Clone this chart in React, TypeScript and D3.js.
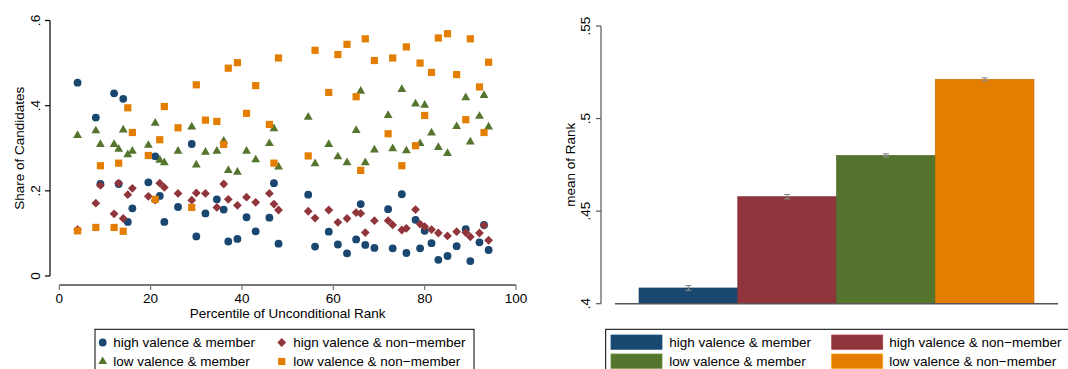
import React from 'react';
import * as d3 from 'd3';

// Percentile of unconditional rank for each group of candidates
const percentiles = [4, 8, 9, 12, 13, 14, 15, 16, 19.5, 21, 22, 23, 26, 29, 30, 32, 34.5, 36, 37, 39, 41, 43, 46, 47, 48,
  54.5, 56, 59, 61, 63, 65, 66, 67, 69, 72, 73, 75, 76, 78, 79, 80, 81.5, 83, 85, 87, 89, 90, 92, 93, 94];

// Share of candidates in each category at each percentile
const highMember = [0.454, 0.372, 0.216, 0.429, 0.216, 0.416, 0.127, 0.159, 0.22, 0.281, 0.188, 0.127, 0.162, 0.31, 0.093,
  0.147, 0.18, 0.156, 0.081, 0.087, 0.138, 0.105, 0.137, 0.218, 0.076,
  0.191, 0.069, 0.104, 0.074, 0.053, 0.086, 0.169, 0.073, 0.066, 0.157, 0.065, 0.192, 0.054, 0.132, 0.065, 0.106, 0.077,
  0.038, 0.047, 0.07, 0.11, 0.035, 0.079, 0.12, 0.061];
const highNonMember = [0.109, 0.171, 0.213, 0.146, 0.218, 0.135, 0.191, 0.206, 0.187, 0.178, 0.218, 0.208, 0.194, 0.178, 0.195,
  0.194, 0.161, 0.216, 0.18, 0.166, 0.185, 0.173, 0.194, 0.169, 0.155,
  0.152, 0.136, 0.155, 0.126, 0.135, 0.149, 0.147, 0.102, 0.13, 0.13, 0.12, 0.108, 0.112, 0.156, 0.122, 0.116, 0.109,
  0.101, 0.094, 0.104, 0.102, 0.092, 0.101, 0.119, 0.084];
const lowMember = [0.33, 0.341, 0.309, 0.309, 0.298, 0.343, 0.285, 0.293, 0.307, 0.359, 0.272, 0.266, 0.293, 0.35, 0.261,
  0.291, 0.293, 0.317, 0.248, 0.244, 0.293, 0.273, 0.311, 0.346, 0.256,
  0.373, 0.264, 0.309, 0.28, 0.266, 0.342, 0.434, 0.266, 0.296, 0.377, 0.299, 0.438, 0.294, 0.404, 0.311, 0.401, 0.336,
  0.302, 0.288, 0.351, 0.419, 0.315, 0.375, 0.424, 0.35];
const lowNonMember = [0.106, 0.114, 0.259, 0.114, 0.265, 0.105, 0.395, 0.337, 0.283, 0.18, 0.32, 0.398, 0.348, 0.161, 0.449,
  0.366, 0.363, 0.309, 0.488, 0.501, 0.382, 0.447, 0.356, 0.265, 0.512,
  0.282, 0.53, 0.431, 0.52, 0.544, 0.421, 0.248, 0.557, 0.506, 0.334, 0.512, 0.259, 0.538, 0.306, 0.5, 0.377, 0.478,
  0.559, 0.569, 0.473, 0.367, 0.557, 0.444, 0.337, 0.502];

const scatterLegend = ['high valence & member', 'hign valence & non\u2212member', 'low valence & member', 'low valence & non\u2212member'];
const scatterXTicks = [0, 20, 40, 60, 80, 100];
const scatterYTicks = [0, 0.2, 0.4, 0.6];

// Mean rank by category, with standard errors
const barCategories = ['high valence & member', 'high valence & non\u2212member', 'low valence & member', 'low valence & non\u2212member'];
const barMeans = [0.4085, 0.4578, 0.4801, 0.5212];
const barErrors = [0.0013, 0.0012, 0.0009, 0.0008];
const barYTicks = [0.4, 0.45, 0.5, 0.55];

const colors = ['#1a476f', '#90353b', '#55752f', '#e37e00'];
const FONT = '"Liberation Sans", Arial, Helvetica, sans-serif';

const fmt = (d: number) => (d === 0 ? '0' : String(+d.toFixed(2)).replace(/^0/, ''));

const diamondPath = (s: number) => `M0,${-s}L${s},0L0,${s}L${-s},0Z`;
const trianglePath = d3.symbol(d3.symbolTriangle, 34)() as string;
const squarePath = (s: number) => `M${-s},${-s}H${s}V${s}H${-s}Z`;

function Marker({ kind, x, y }: { kind: number; x: number; y: number }) {
  const t = `translate(${x},${y})`;
  if (kind === 0) return <circle cx={x} cy={y} r={3.9} fill={colors[0]} />;
  if (kind === 1) return <path transform={t} d={diamondPath(4.4)} fill={colors[1]} />;
  if (kind === 2) return <path transform={t} d={trianglePath} fill={colors[2]} />;
  return <path transform={t} d={squarePath(3.6)} fill={colors[3]} />;
}

function Scatter() {
  const x = d3.scaleLinear().domain([0, 100]).range([59.3, 516]);
  const y = d3.scaleLinear().domain([0, 0.6]).range([276, 20.5]);
  const series = [highMember, highNonMember, lowMember, lowNonMember];
  return (
    <g>
      {/* y axis */}
      <line x1={50} x2={50} y1={y(0.6)} y2={y(0)} stroke="#000" strokeWidth={1.2} />
      {scatterYTicks.map((t) => (
        <g key={t}>
          <line x1={45} x2={50} y1={y(t)} y2={y(t)} stroke="#000" strokeWidth={1.2} />
          <text transform={`translate(39.5,${y(t)}) rotate(-90)`} textAnchor="middle" fontSize={13.5}>{fmt(t)}</text>
        </g>
      ))}
      <text transform={`translate(24,${(y(0) + y(0.6)) / 2}) rotate(-90)`} textAnchor="middle" fontSize={13.5}>Share of Candidates</text>
      {/* x axis */}
      <line x1={x(0)} x2={x(100)} y1={285} y2={285} stroke="#777" strokeWidth={2} />
      {scatterXTicks.map((t) => (
        <g key={t}>
          <line x1={x(t)} x2={x(t)} y1={285} y2={290} stroke="#777" strokeWidth={1.2} />
          <text x={x(t)} y={302.5} textAnchor="middle" fontSize={13.5}>{t}</text>
        </g>
      ))}
      <text x={(x(0) + x(100)) / 2} y={318} textAnchor="middle" fontSize={13.5}>Percentile of Unconditional Rank</text>
      {/* points */}
      {series.map((vals, k) => (
        <g key={k}>
          {vals.map((v, i) => (
            <Marker key={i} kind={k} x={x(percentiles[i])} y={y(v)} />
          ))}
        </g>
      ))}
      {/* legend */}
      <rect x={95} y={329.3} width={379} height={60} fill="#fff" stroke="#000" strokeWidth={1} />
      {scatterLegend.map((label, i) => {
        const col = i % 2;
        const row = Math.floor(i / 2);
        const mx = col === 0 ? 102.7 : 281.7;
        const my = row === 0 ? 342.5 : 361.5;
        const tx = col === 0 ? 113.3 : 293.3;
        return (
          <g key={label}>
            <Marker kind={i} x={mx} y={my} />
            <text x={tx} y={my + 4.7} fontSize={13.5}>{label}</text>
          </g>
        );
      })}
    </g>
  );
}

function Bars() {
  const x = d3.scaleBand<string>().domain(barCategories).range([639, 1034]).padding(0);
  const y = d3.scaleLinear().domain([0.4, 0.55]).range([303.7, 26]);
  return (
    <g>
      {/* y axis */}
      <line x1={601} x2={601} y1={y(0.55)} y2={y(0.4)} stroke="#555" strokeWidth={1.2} />
      {barYTicks.map((t) => (
        <g key={t}>
          <line x1={596} x2={601} y1={y(t)} y2={y(t)} stroke="#555" strokeWidth={1.2} />
          <text transform={`translate(589.5,${y(t)}) rotate(-90)`} textAnchor="middle" fontSize={13.5}>{fmt(t)}</text>
        </g>
      ))}
      <text transform={`translate(575,${(y(0.4) + y(0.55)) / 2}) rotate(-90)`} textAnchor="middle" fontSize={13.5}>mean of Rank</text>
      {/* bars */}
      {barCategories.map((c, i) => (
        <rect key={c} x={x(c)} y={y(barMeans[i])} width={x.bandwidth()} height={y(0.4) - y(barMeans[i])}
          fill={colors[i]} stroke={d3.color(colors[i])!.darker(0.4).toString()} strokeWidth={0.6} />
      ))}
      <line x1={615} x2={1058} y1={y(0.4)} y2={y(0.4)} stroke="#555" strokeWidth={1.5} />
      {/* error bars */}
      {barCategories.map((c, i) => {
        const cx = (x(c) as number) + x.bandwidth() / 2;
        const lo = y(barMeans[i] - barErrors[i]);
        const hi = y(barMeans[i] + barErrors[i]);
        return (
          <g key={c} stroke="#8a8a8a" strokeWidth={1.1}>
            <line x1={cx} x2={cx} y1={lo} y2={hi} />
            <line x1={cx - 3} x2={cx + 3} y1={lo} y2={lo} />
            <line x1={cx - 3} x2={cx + 3} y1={hi} y2={hi} />
          </g>
        );
      })}
      {/* legend */}
      <rect x={605.7} y={329.3} width={470} height={60} fill="#fff" stroke="#000" strokeWidth={1} />
      {barCategories.map((label, i) => {
        const col = i % 2;
        const row = Math.floor(i / 2);
        const sx = col === 0 ? 611 : 831.7;
        const sy = row === 0 ? 335 : 354;
        const tx = col === 0 ? 669.3 : 889.3;
        return (
          <g key={label}>
            <rect x={sx} y={sy} width={51} height={14.3} fill={colors[i]}
              stroke={d3.color(colors[i])!.brighter(0.6).toString()} strokeWidth={0.8} />
            <text x={tx} y={sy + 12} fontSize={13.5}>{label}</text>
          </g>
        );
      })}
    </g>
  );
}

export default function App() {
  return (
    <svg width={1068} height={369} style={{ position: 'absolute', left: 0, top: 0, background: '#fff' }}
      fontFamily={FONT} fill="#000">
      <rect width={1068} height={369} fill="#fff" />
      <Scatter />
      <Bars />
    </svg>
  );
}
